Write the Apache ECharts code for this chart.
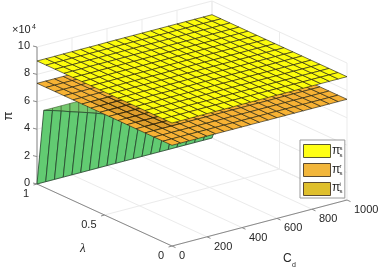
<!DOCTYPE html>
<html>
<head>
<meta charset="utf-8">
<style>html,body{margin:0;padding:0;background:#fff}#c{width:382px;height:271px}</style>
<script src="https://cdn.jsdelivr.net/npm/echarts@6/dist/echarts.min.js"></script>
</head>
<body>
<div id="c"></div>
<script>
var cdTicks = [0, 200, 400, 600, 800, 1000];
var lambdaTicks = [0, 0.5, 1];
var piTicks = [0, 2, 4, 6, 8, 10];
var cdGrid = [0,50,100,150,200,250,300,350,400,450,500,550,600,650,700,750,800,850,900,950,1000];
var lambdaGrid = [0,0.0667,0.1333,0.2,0.2667,0.3333,0.4,0.4667,0.5333,0.6,0.6667,0.7333,0.8,0.8667,0.9333,1];
// surface heights in units of 1e4, read per Cd column (the two upper sheets are flat along lambda)
var piSsByCd = [8.98,8.98,8.98,8.99,8.99,8.99,8.99,8.99,9,9,9,9,9,9,9,9,9,9,9,9,9];
var piSrByCd = [7.35,7.35,7.35,7.35,7.35,7.35,7.35,7.35,7.35,7.35,7.35,7.35,7.35,7.35,7.35,7.35,7.35,7.35,7.35,7.35,7.35];
// green wall: rises from 0 at lambda = 1 to these heights at lambda = 0.95
var wallLambda = [1, 0.95];
var wallBase = [0,0,0,0,0,0,0,0,0,0,0,0,0,0,0,0,0,0,0,0,0];
var wallTop = [5.6,5.42,5.22,5.0,4.8,4.6,4.38,4.15,3.9,3.7,3.5,3.3,3.1,2.9,2.7,2.5,2.3,2.1,1.9,1.7,1.5];
var wallRidge = [5.6,5.6,5.6,5.6,5.6,5.6,5.6,5.6,5.6,5.6,5.6,5.6,5.6,5.6,5.6,5.6,5.6,5.6,5.6,5.6,5.6];
// third sheet, just poking through the orange one
var piSiCd = [50,100,150,200];
var piSiLambda = [0.2,0.2667,0.3333,0.4,0.4667,0.5333,0.6,0.6667];
var piSiHeight = 7.35;
var seriesNames = ['s','r','i'];

function project(cd, lam, z) {
  return [172 + cd / 1000 * 175 - lam * 135, 246 - cd / 1000 * 46 - lam * 62 - z * 13.7];
}
function cells(nx, ny) {
  var out = [];
  for (var j = ny - 1; j >= 0; j--) for (var i = 0; i < nx; i++) out.push([i, j]);
  return out;
}
function poly(api, pts, fill, stroke, lw, op) {
  return {
    type: 'polygon',
    shape: { points: pts.map(function (p) { return api.coord(p); }) },
    style: { fill: fill, stroke: stroke, lineWidth: lw, opacity: op == null ? 1 : op }
  };
}
function sheet(name, zArr, fill, z) {
  return {
    type: 'custom', name: name, coordinateSystem: 'cartesian2d', silent: true, z: z, clip: false,
    data: cells(cdGrid.length - 1, lambdaGrid.length - 1),
    renderItem: function (p, api) {
      var i = api.value(0), j = api.value(1);
      return poly(api, [
        project(cdGrid[i], lambdaGrid[j], zArr[i]),
        project(cdGrid[i + 1], lambdaGrid[j], zArr[i + 1]),
        project(cdGrid[i + 1], lambdaGrid[j + 1], zArr[i + 1]),
        project(cdGrid[i], lambdaGrid[j + 1], zArr[i])
      ], fill, 'rgba(35,32,18,0.85)', 0.75);
    }
  };
}
var greenWall = {
  type: 'custom', name: 'wall', coordinateSystem: 'cartesian2d', silent: true, z: 2, clip: false,
  data: cells(cdGrid.length - 1, 1),
  renderItem: function (p, api) {
    var i = api.value(0);
    var l0 = wallLambda[0], l1 = wallLambda[1];
    return {
      type: 'group',
      children: [
        poly(api, [
          project(cdGrid[i], l1, wallTop[i]),
          project(cdGrid[i + 1], l1, wallTop[i + 1]),
          project(cdGrid[i + 1], l1, wallRidge[i + 1]),
          project(cdGrid[i], l1, wallRidge[i])
        ], '#74c86e', '#3c5a2c', 0.6),
        poly(api, [
          project(cdGrid[i], l0, wallBase[i]),
          project(cdGrid[i + 1], l0, wallBase[i + 1]),
          project(cdGrid[i + 1], l1, wallTop[i + 1]),
          project(cdGrid[i], l1, wallTop[i])
        ], '#62cb72', '#24442c', 0.8)
      ]
    };
  }
};
var goldPatch = {
  type: 'custom', name: 'π_s^i', coordinateSystem: 'cartesian2d', silent: true, z: 4, clip: false,
  data: cells(piSiCd.length - 1, piSiLambda.length - 1),
  renderItem: function (p, api) {
    var i = api.value(0), j = api.value(1);
    return poly(api, [
      project(piSiCd[i], piSiLambda[j], piSiHeight),
      project(piSiCd[i + 1], piSiLambda[j], piSiHeight),
      project(piSiCd[i + 1], piSiLambda[j + 1], piSiHeight),
      project(piSiCd[i], piSiLambda[j + 1], piSiHeight)
    ], 'rgba(150,105,20,0.25)', 'rgba(40,30,10,0.55)', 0.7);
  }
};
function line(api, a, b, color, w) {
  var p = api.coord(a), q = api.coord(b);
  return { type: 'line', shape: { x1: p[0], y1: p[1], x2: q[0], y2: q[1] }, style: { stroke: color, lineWidth: w } };
}
function label(api, pos, dx, dy, text, align) {
  var p = api.coord(pos);
  return { type: 'text', style: { text: text, x: p[0] + dx, y: p[1] + dy, align: align, verticalAlign: 'middle', fill: '#262626', fontFamily: 'Liberation Sans', fontSize: 11 } };
}
var GRID = '#ebebeb', AX = '#8a8a8a';
var frame = {
  type: 'custom', name: 'frame', coordinateSystem: 'cartesian2d', silent: true, z: 1, clip: false,
  data: [[0, 0]],
  renderItem: function (p, api) {
    var c = [];
    cdTicks.forEach(function (v) {
      c.push(line(api, project(v, 0, 0), project(v, 1, 0), GRID, 1));
      c.push(line(api, project(v, 1, 0), project(v, 1, 10), GRID, 1));
    });
    lambdaTicks.forEach(function (v) {
      c.push(line(api, project(0, v, 0), project(1000, v, 0), GRID, 1));
      c.push(line(api, project(1000, v, 0), project(1000, v, 10), GRID, 1));
    });
    piTicks.forEach(function (v) {
      c.push(line(api, project(0, 1, v), project(1000, 1, v), GRID, 1));
      c.push(line(api, project(1000, 1, v), project(1000, 0, v), GRID, 1));
    });
    c.push(line(api, project(0, 1, 0), project(0, 1, 10), AX, 1));
    c.push(line(api, project(0, 1, 0), project(0, 0, 0), AX, 1));
    c.push(line(api, project(0, 0, 0), project(1000, 0, 0), AX, 1));
    cdTicks.forEach(function (v) {
      var a = project(v, 0, 0);
      c.push(line(api, a, [a[0] + 3.5, a[1] + 1.6], AX, 1));
      c.push(label(api, a, 7, 10, String(v), 'left'));
    });
    lambdaTicks.forEach(function (v) {
      var a = project(0, v, 0);
      c.push(line(api, a, [a[0] - 3.5, a[1] + 1], AX, 1));
      c.push(label(api, a, -8, 10, String(v), 'right'));
    });
    piTicks.forEach(function (v) {
      var a = project(0, 1, v);
      c.push(line(api, a, [a[0] - 4, a[1] - 1], AX, 1));
      c.push(label(api, a, -7, -1, String(v), 'right'));
    });
    return { type: 'group', children: c };
  }
};
var chart = echarts.init(document.getElementById('c'), null, { renderer: 'canvas' });
chart.setOption({
  animation: false,
  backgroundColor: '#fff',
  grid: { left: 0, right: 0, top: 0, bottom: 0 },
  xAxis: { type: 'value', min: 0, max: 382, show: false },
  yAxis: { type: 'value', min: 0, max: 271, inverse: true, show: false },
  legend: {
    left: 300, top: 140, orient: 'vertical', padding: [4, 6, 2, 3],
    itemWidth: 27, itemHeight: 13, itemGap: 5, icon: 'rect', selectedMode: false,
    backgroundColor: '#fff', borderColor: '#9a9a9a', borderWidth: 1, z: 20,
    formatter: function () { return ' '; },
    textStyle: { fontFamily: 'Liberation Sans', fontSize: 12, color: '#262626', width: 12 },
    data: [
      { name: 'π_s^s', itemStyle: { color: '#ffff14', borderColor: '#5b5a30', borderWidth: 1 } },
      { name: 'π_s^r', itemStyle: { color: '#f2b63b', borderColor: '#5b4a30', borderWidth: 1 } },
      { name: 'π_s^i', itemStyle: { color: '#dfbf2c', borderColor: '#5b4a30', borderWidth: 1 } }
    ]
  },
  graphic: [
    { type: 'text', z: 100, left: 12, top: 24, style: { text: '×10', fontFamily: 'Liberation Sans', fontSize: 11, fill: '#262626' } },
    { type: 'text', z: 100, left: 32, top: 24, style: { text: '4', fontFamily: 'Liberation Sans', fontSize: 7, fill: '#262626' } },
    { type: 'text', z: 100, x: 8, y: 116, rotation: Math.PI / 2, style: { text: 'π', align: 'center', verticalAlign: 'middle', fontFamily: 'Liberation Sans', fontSize: 13, fill: '#262626' } },
    { type: 'text', z: 100, left: 80, top: 242, style: { text: 'λ', fontFamily: 'Liberation Serif', fontStyle: 'italic', fontSize: 13, fill: '#262626' } },
    { type: 'text', z: 100, left: 283, top: 253, style: { text: 'C', fontFamily: 'Liberation Sans', fontSize: 12, fill: '#262626' } },
    { type: 'text', z: 100, left: 292, top: 262, style: { text: 'd', fontFamily: 'Liberation Sans', fontSize: 7, fill: '#262626' } }
  ].concat(seriesNames.map(function (s, k) {
    return { type: 'text', z: 100, left: 332, top: 145 + k * 18.3, style: { text: 'π', fontFamily: 'Liberation Sans', fontSize: 12, fill: '#262626' } };
  })).concat(seriesNames.map(function (s, k) {
    return { type: 'text', z: 100, left: 339.5, top: 145 + k * 18.3, style: { text: s, fontFamily: 'Liberation Sans', fontSize: 6, fill: '#262626' } };
  })).concat(seriesNames.map(function (s, k) {
    return { type: 'text', z: 100, left: 339.5, top: 152 + k * 18.3, style: { text: 's', fontFamily: 'Liberation Sans', fontSize: 6, fill: '#262626' } };
  })),
  series: [
    frame,
    greenWall,
    sheet('π_s^r', piSrByCd, '#f7b234', 3),
    goldPatch,
    sheet('π_s^s', piSsByCd, '#fdfd0c', 5)
  ]
});
</script>
</body>
</html>
